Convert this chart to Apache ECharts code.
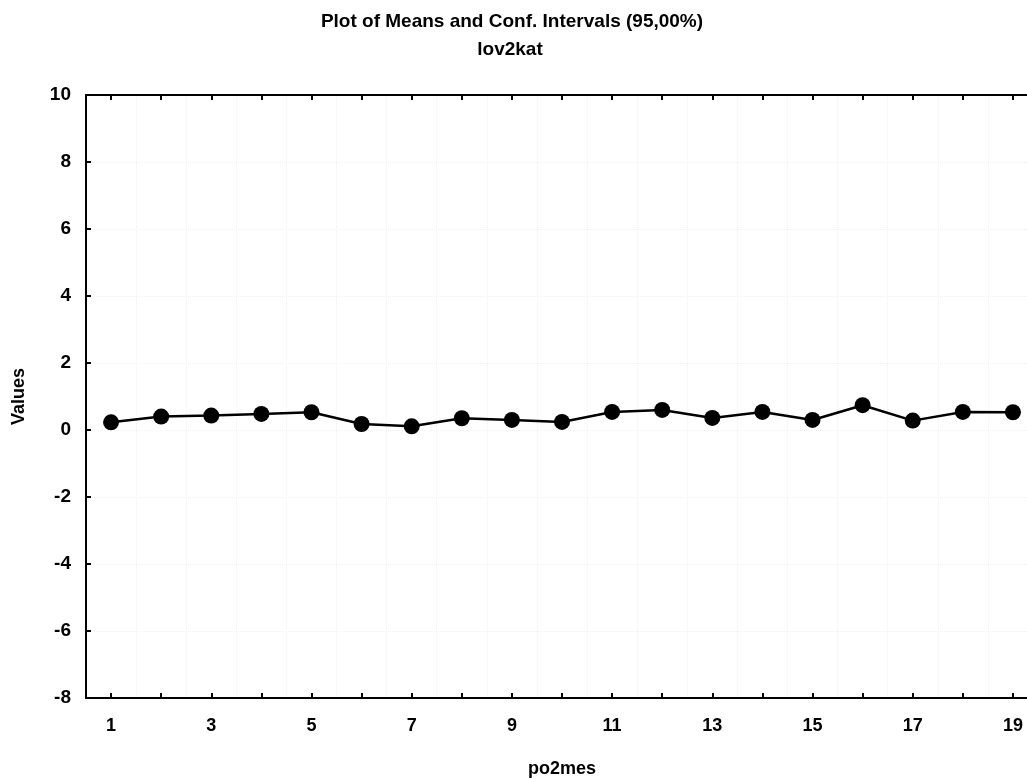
<!DOCTYPE html>
<html>
<head>
<meta charset="utf-8">
<script src="https://cdn.jsdelivr.net/npm/echarts@6/dist/echarts.min.js"></script>
<style>
  html, body { margin: 0; padding: 0; background: #fff; overflow: hidden; }
  #chart { width: 1027px; height: 779px; }
</style>
</head>
<body>
<div id="chart"></div>
<script>
const titleText = 'Plot of Means and Conf. Intervals (95,00%)';
const subtitleText = 'lov2kat';
const xName = 'po2mes';
const yName = 'Values';
const categories = ['1','2','3','4','5','6','7','8','9','10','11','12','13','14','15','16','17','18','19'];
const means = [0.23, 0.40, 0.43, 0.48, 0.53, 0.18, 0.11, 0.35, 0.30, 0.24, 0.54, 0.60, 0.36, 0.54, 0.30, 0.74, 0.28, 0.54, 0.53];
const yMin = -8, yMax = 10, yStep = 2;

const chart = echarts.init(document.getElementById('chart'), null, { renderer: 'canvas' });
const font = 'Liberation Sans, Arial, sans-serif';
const axisLineStyle = { color: '#000', width: 2 };
chart.setOption({
  backgroundColor: '#fff',
  animation: false,
  title: [
    { text: titleText, left: 507, textAlign: 'center', top: 7,
      textStyle: { fontFamily: font, fontSize: 19, fontWeight: 'bold', color: '#000' } },
    { text: subtitleText, left: 505, textAlign: 'center', top: 35,
      textStyle: { fontFamily: font, fontSize: 19, fontWeight: 'bold', color: '#000' } }
  ],
  grid: { left: 86, top: 95, width: 952, bottom: 81, containLabel: false, outerBoundsMode: 'none' },
  xAxis: [
    {
      type: 'category', data: categories, position: 'bottom', boundaryGap: true,
      name: xName, nameLocation: 'middle', nameGap: 62,
      nameTextStyle: { fontFamily: font, fontSize: 18, fontWeight: 'bold', color: '#000' },
      axisLine: { onZero: false, lineStyle: axisLineStyle },
      axisTick: { show: true, inside: true, length: 5, alignWithLabel: true, interval: 0, lineStyle: { color: '#000', width: 2 } },
      axisLabel: { interval: 1, margin: 19, fontFamily: font, fontSize: 18, fontWeight: 'bold', color: '#000' },
      splitLine: { show: true, interval: 0, lineStyle: { color: '#f2f2f2', type: 'dotted' } }
    },
    {
      type: 'category', data: categories, position: 'top', boundaryGap: true,
      axisLine: { onZero: false, lineStyle: axisLineStyle },
      axisTick: { show: true, inside: true, length: 5, alignWithLabel: true, interval: 0, lineStyle: { color: '#000', width: 2 } },
      axisLabel: { show: false },
      splitLine: { show: false }
    }
  ],
  yAxis: {
    type: 'value', min: yMin, max: yMax, interval: yStep,
    name: yName, nameLocation: 'middle', nameGap: 58, nameRotate: 90,
    nameTextStyle: { fontFamily: font, fontSize: 18, fontWeight: 'bold', color: '#000' },
    axisLine: { show: true, onZero: false, lineStyle: axisLineStyle },
    axisTick: { show: true, inside: true, length: 5, lineStyle: { color: '#000', width: 2 } },
    axisLabel: { margin: 15, fontFamily: font, fontSize: 19, fontWeight: 'bold', color: '#000' },
    splitLine: { show: true, lineStyle: { color: '#f2f2f2', type: 'dotted' } }
  },
  series: [{
    type: 'line', data: means, xAxisIndex: 0,
    symbol: 'circle', symbolSize: 16,
    lineStyle: { color: '#000', width: 2.5 },
    itemStyle: { color: '#000' }
  }]
});
</script>
</body>
</html>
